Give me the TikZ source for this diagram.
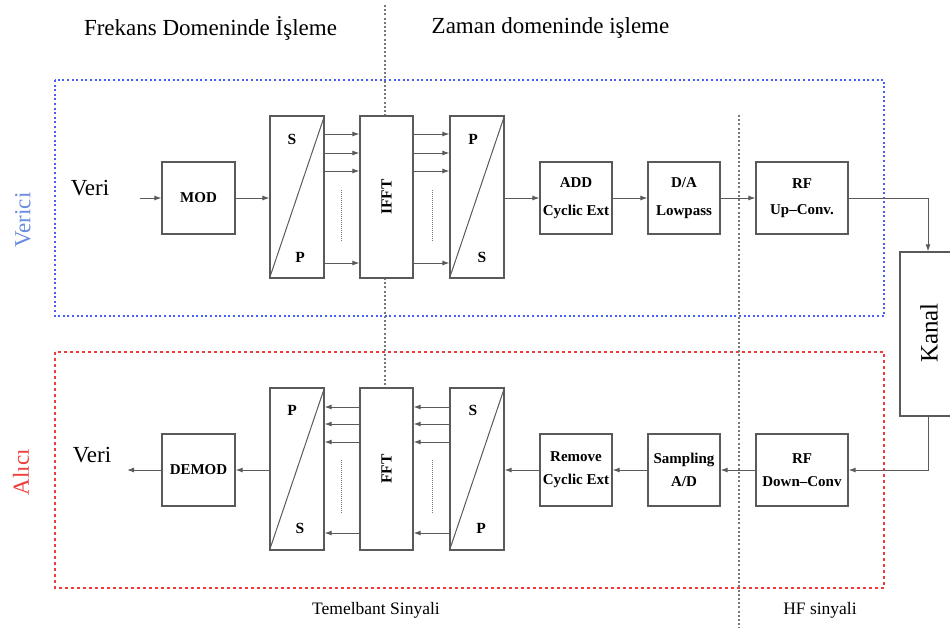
\documentclass[tikz,border=0pt]{standalone}
\usepackage{fontspec}
\setmainfont{Liberation Serif}
\usetikzlibrary{arrows.meta}
\definecolor{lg}{RGB}{90,90,90}
\definecolor{dg}{RGB}{120,120,120}
\definecolor{bl}{RGB}{70,95,250}
\definecolor{lbl}{RGB}{105,140,225}
\definecolor{rd}{RGB}{240,60,60}
\begin{document}
\begin{tikzpicture}[x=1pt,y=-1pt,
  blk/.style={draw=lg,line width=1.2pt,fill=white,inner sep=0pt,align=center,
    font=\fontsize{15}{23}\selectfont\bfseries},
  convbox/.style={draw=lg,line width=1.2pt,fill=white,inner sep=0pt,minimum width=54pt,minimum height=162pt},
  fftbox/.style={draw=lg,line width=1.2pt,fill=white,inner sep=0pt,minimum width=53pt,minimum height=162pt},
  smallbox/.style={blk,minimum width=72pt,minimum height=72pt},
  rfbox/.style={blk,minimum width=92pt,minimum height=72pt},
  lbl/.style={font=\fontsize{15.5}{17}\selectfont\bfseries,inner sep=0pt},
  arr/.style={draw=lg,line width=1pt,-{Latex[length=7pt,width=5pt]}},
  ln/.style={draw=lg,line width=1pt},
  fdots/.style={draw=dg,line width=0.8pt,dash pattern=on 0.8pt off 1.2pt},
  gline/.style={draw=dg,line width=1.1pt,dash pattern=on 2pt off 2.2pt},
  ttl/.style={font=\fontsize{23}{26}\selectfont,inner sep=0pt},
  btl/.style={font=\fontsize{17.5}{20}\selectfont,inner sep=0pt}]
\useasboundingbox (0,0) rectangle (950,630);

% region frames
\draw[bl,line width=1.6pt,dash pattern=on 2pt off 2.6pt] (55,80) rectangle (884,316);
\draw[rd,line width=1.4pt,dash pattern=on 3pt off 3pt] (55,352) rectangle (884,588);

% domain separators
\coordinate (g1a) at (385,5);
\coordinate (g1b) at (385,388);
\coordinate (g2a) at (739,115);
\coordinate (g2b) at (739,628);
\draw[gline] (g1a) -- (g1b);
\draw[gline] (g2a) -- (g2b);

% titles
\node[ttl] (t1) at (210.5,28) {Frekans Domeninde İşleme};
\node[ttl] (t2) at (550.5,28) {Zaman domeninde işleme};
\node[btl] (t3) at (376,610) {Temelbant Sinyali};
\node[btl] (t4) at (820,610) {HF sinyali};
\node[ttl,text=lbl,rotate=90] (ver) at (23,220) {Verici};
\node[ttl,text=rd,rotate=90] (alc) at (21,472) {Alıcı};

% ---------------- transmitter ----------------
\node[ttl] (veri1) at (90,188) {Veri};
\coordinate (vin) at (140,198);
\node[smallbox,minimum width=73pt] (mod) at (198.5,198) {MOD};
\node[convbox] (sp) at (297,197) {};
\draw[ln] (sp.south west) -- (sp.north east);
\node[lbl] at (292,139) {S};
\node[lbl] at (300,257) {P};
\node[fftbox] (ifft) at (386.5,197) {};
\node[lbl,rotate=90] at (386.5,197) {IFFT};
\node[convbox] (ps) at (477,197) {};
\draw[ln] (ps.south west) -- (ps.north east);
\node[lbl] at (473,139) {P};
\node[lbl] at (482,257) {S};
\node[smallbox] (add) at (576,198) {ADD\\[5pt]Cyclic Ext};
\node[smallbox] (da) at (684,198) {D/A\\[5pt]Lowpass};
\node[rfbox] (rfup) at (802,198) {RF\\[3pt]Up--Conv.};
\node[draw=lg,line width=1.2pt,fill=white,minimum width=56pt,minimum height=164pt] (kanal) at (928,334) {};
\node[font=\fontsize{25}{28}\selectfont,rotate=90] at (929,333) {Kanal};

\draw[arr] (vin) -- (mod);
\draw[arr] (mod.east) -- (sp.west |- mod.east);
\foreach \yy in {134,153,171,263}{
  \draw[arr] (sp.east |- 0,\yy) -- (ifft.west |- 0,\yy);
  \draw[arr] (ifft.east |- 0,\yy) -- (ps.west |- 0,\yy);
}
\draw[fdots] (341,190) -- (341,242);
\draw[fdots] (432,190) -- (432,242);
\draw[arr] (ps.east |- add.west) -- (add.west);
\draw[arr] (add) -- (da);
\draw[arr] (da) -- (rfup);
\draw[arr] (rfup.east) -| (kanal.north);

% ---------------- receiver ----------------
\node[ttl] (veri2) at (92,455) {Veri};
\coordinate (vout) at (127,470);
\node[smallbox,minimum width=73pt] (demod) at (198.5,470) {DEMOD};
\node[convbox] (rps) at (297,469) {};
\draw[ln] (rps.south west) -- (rps.north east);
\node[lbl] at (292,410) {P};
\node[lbl] at (300,528) {S};
\node[fftbox] (fft) at (386.5,469) {};
\node[lbl,rotate=90] at (386.5,469) {FFT};
\node[convbox] (rsp) at (477,469) {};
\draw[ln] (rsp.south west) -- (rsp.north east);
\node[lbl] at (473,410) {S};
\node[lbl] at (481,528) {P};
\node[smallbox] (rem) at (576,470) {Remove\\Cyclic Ext};
\node[smallbox] (samp) at (684,470) {Sampling\\A/D};
\node[rfbox] (rfdown) at (802,470) {RF\\Down--Conv};

\draw[arr] (kanal.south) |- (rfdown.east);
\draw[arr] (rfdown) -- (samp);
\draw[arr] (samp) -- (rem);
\draw[arr] (rem.west) -- (rsp.east |- rem.west);
\foreach \yy in {407,424,442,533}{
  \draw[arr] (rsp.west |- 0,\yy) -- (fft.east |- 0,\yy);
  \draw[arr] (fft.west |- 0,\yy) -- (rps.east |- 0,\yy);
}
\draw[fdots] (341,460) -- (341,513);
\draw[fdots] (432,460) -- (432,513);
\draw[arr] (rps.west |- demod.east) -- (demod.east);
\draw[arr] (demod.west) -- (vout);
\end{tikzpicture}
\end{document}
